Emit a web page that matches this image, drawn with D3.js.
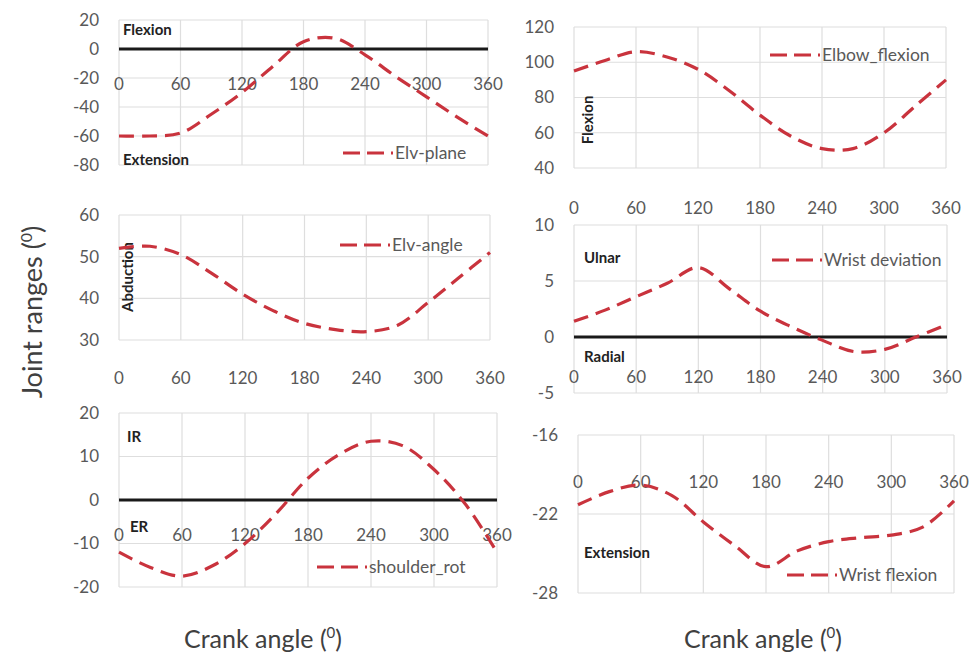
<!DOCTYPE html>
<html>
<head>
<meta charset="utf-8">
<script src="https://cdn.jsdelivr.net/npm/d3@7"></script>
<style>
  body { margin: 0; background: #fff; }
  text { font-family: Lato, "Open Sans", sans-serif; }
</style>
</head>
<body>
<svg id="chart"></svg>
<script>
// crank angle samples (deg) and x ticks shared by all six panels
var angles = [0, 30, 60, 90, 120, 150, 180, 210, 240, 270, 300, 330, 360];
var xTicks = [0, 60, 120, 180, 240, 300, 360];

// joint ranges
var elvPlane       = [-60, -60, -58, -45, -30, -12, 5, 7.5, -4, -19, -33, -47, -60];
var elvAngle       = [52, 52.5, 50.5, 46, 41, 37, 34, 32.5, 32, 33.5, 39, 45, 51];
var shoulderRot    = [-12, -15.5, -17.5, -15, -10, -3, 5, 10.5, 13.5, 12.5, 7, -1, -12];
var elbowFlexion   = [95, 101, 106, 103, 96, 84, 70, 58, 51, 51, 60, 75, 90];
var wristDeviation = [1.4, 2.4, 3.6, 4.8, 6.2, 4.3, 2.3, 0.9, -0.3, -1.3, -1.1, 0, 1.1];
var wristFlexion   = [-21.3, -20.3, -19.8, -20.6, -22.6, -24.4, -26, -24.8, -24.1, -23.8, -23.6, -23, -21];

// y tick labels per panel
var yTicksElvPlane  = [20, 0, -20, -40, -60, -80];
var yTicksElvAngle  = [60, 50, 40, 30];
var yTicksShoulder  = [20, 10, 0, -10, -20];
var yTicksElbow     = [120, 100, 80, 60, 40];
var yTicksWristDev  = [10, 5, 0, -5];
var yTicksWristFlex = [-16, -22, -28];

var width = 973,
    height = 664;

var lineColor = "#c9333d";
var gridColor = "#dedede";
var tickColor = "#595959";

var svg = d3.select("#chart")
  .attr("width", width)
  .attr("height", height);

svg.append("rect").attr("width", width).attr("height", height).attr("fill", "#fff");

// layout of every panel (pixel boxes) + the series it shows
var panels = [
  { name: "Elv-plane", values: elvPlane, ticks: yTicksElvPlane,
    left: 119, right: 488, top: 20, bottom: 165, labelY: 84, zero: true,
    legend: [343, 153],
    notes: [{ t: "Flexion", x: 123, y: 30 }, { t: "Extension", x: 123, y: 160 }] },
  { name: "Elv-angle", values: elvAngle, ticks: yTicksElvAngle,
    left: 119, right: 490, top: 215, bottom: 340, labelY: 378, zero: false,
    legend: [340, 245],
    notes: [{ t: "Abduction", x: 128, y: 277, rot: true }] },
  { name: "shoulder_rot", values: shoulderRot, ticks: yTicksShoulder,
    left: 119, right: 497, top: 413, bottom: 587, labelY: 535, zero: true,
    legend: [317, 567],
    notes: [{ t: "IR", x: 127, y: 437 }, { t: "ER", x: 130, y: 527 }] },
  { name: "Elbow_flexion", values: elbowFlexion, ticks: yTicksElbow,
    left: 574, right: 946, top: 27, bottom: 168, labelY: 208, zero: false,
    legend: [770, 55],
    notes: [{ t: "Flexion", x: 588, y: 120, rot: true }] },
  { name: "Wrist deviation", values: wristDeviation, ticks: yTicksWristDev,
    left: 574, right: 947, top: 225, bottom: 393, labelY: 377, zero: true,
    legend: [772, 260],
    notes: [{ t: "Ulnar", x: 584, y: 258 }, { t: "Radial", x: 584, y: 357 }] },
  { name: "Wrist flexion", values: wristFlexion, ticks: yTicksWristFlex,
    left: 578, right: 954, top: 435, bottom: 593, labelY: 482, zero: false,
    legend: [787, 575],
    notes: [{ t: "Extension", x: 584, y: 553 }] }
];

panels.forEach(function(p) {
  var g = svg.append("g");

  var x = d3.scaleLinear().domain([0, 360]).range([p.left, p.right]);
  var y = d3.scaleLinear()
    .domain([d3.min(p.ticks), d3.max(p.ticks)])
    .range([p.bottom, p.top]);

  // grid
  g.selectAll(".hgrid").data(p.ticks).enter().append("line")
    .attr("x1", p.left).attr("x2", p.right)
    .attr("y1", function(d) { return y(d); })
    .attr("y2", function(d) { return y(d); })
    .attr("stroke", gridColor).attr("stroke-width", 1.2);

  g.selectAll(".vgrid").data(xTicks).enter().append("line")
    .attr("x1", function(d) { return x(d); })
    .attr("x2", function(d) { return x(d); })
    .attr("y1", p.top).attr("y2", p.bottom)
    .attr("stroke", gridColor).attr("stroke-width", 1.2);

  // y tick labels
  g.selectAll(".ylab").data(p.ticks).enter().append("text")
    .attr("x", p.left - 20)
    .attr("y", function(d) { return y(d); })
    .attr("dy", "0.35em")
    .attr("text-anchor", "end")
    .attr("fill", tickColor)
    .style("font-size", "17px")
    .text(function(d) { return d; });

  // x tick labels (they sit wherever the horizontal axis crosses)
  g.selectAll(".xlab").data(xTicks).enter().append("text")
    .attr("x", function(d) { return x(d); })
    .attr("y", p.labelY)
    .attr("dy", "0.35em")
    .attr("text-anchor", "middle")
    .attr("fill", tickColor)
    .style("font-size", "17px")
    .text(function(d) { return d; });

  if (p.zero) {
    g.append("line")
      .attr("x1", p.left).attr("x2", p.right)
      .attr("y1", y(0)).attr("y2", y(0))
      .attr("stroke", "#1a1a1a").attr("stroke-width", 3);
  }

  // bold region labels
  p.notes.forEach(function(n) {
    var t = g.append("text")
      .attr("fill", "#222")
      .style("font-size", "15px")
      .style("font-weight", "bold")
      .text(n.t);
    if (n.rot) {
      t.attr("text-anchor", "middle")
        .attr("transform", "translate(" + (n.x + 5) + "," + n.y + ") rotate(-90)");
    } else {
      t.attr("x", n.x).attr("y", n.y).attr("dy", "0.35em");
    }
  });

  var line = d3.line()
    .x(function(d, i) { return x(angles[i]); })
    .y(function(d) { return y(d); })
    .curve(d3.curveCatmullRom.alpha(0.5));

  g.append("path")
    .datum(p.values)
    .attr("d", line)
    .attr("fill", "none")
    .attr("stroke", lineColor)
    .attr("stroke-width", 3.2)
    .attr("stroke-dasharray", "15,8");

  // legend
  g.append("line")
    .attr("x1", p.legend[0]).attr("x2", p.legend[0] + 50)
    .attr("y1", p.legend[1]).attr("y2", p.legend[1])
    .attr("stroke", lineColor).attr("stroke-width", 3.2)
    .attr("stroke-dasharray", "17,7");
  g.append("text")
    .attr("x", p.legend[0] + 52)
    .attr("y", p.legend[1])
    .attr("dy", "0.35em")
    .attr("fill", tickColor)
    .style("font-size", "17.5px")
    .text(p.name);
});

// shared axis titles
var yTitle = svg.append("text")
  .attr("transform", "translate(42,312) rotate(-90)")
  .attr("text-anchor", "middle")
  .attr("fill", "#404040")
  .style("font-size", "27px");
yTitle.append("tspan").text("Joint ranges (");
yTitle.append("tspan").attr("dy", -10).style("font-size", "16px").text("0");
yTitle.append("tspan").attr("dy", 10).text(")");

[263, 763].forEach(function(cx) {
  var t = svg.append("text")
    .attr("x", cx).attr("y", 648)
    .attr("text-anchor", "middle")
    .attr("fill", "#404040")
    .style("font-size", "25px");
  t.append("tspan").text("Crank angle (");
  t.append("tspan").attr("dy", -10).style("font-size", "15px").text("0");
  t.append("tspan").attr("dy", 10).text(")");
});
</script>
</body>
</html>
